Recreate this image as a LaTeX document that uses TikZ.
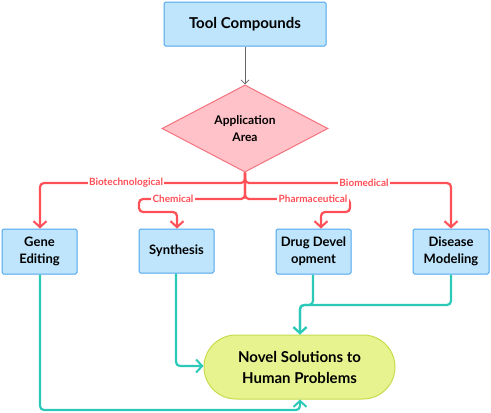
\documentclass[tikz,border=0pt]{standalone}
\usepackage{fontspec}
\setmainfont{Lato}
\usetikzlibrary{shapes.geometric,arrows.meta}
\definecolor{boxfill}{HTML}{BEE5FB}
\definecolor{boxline}{HTML}{4FA6EE}
\definecolor{diafill}{HTML}{FFC2C8}
\definecolor{dialine}{HTML}{F3727E}
\definecolor{redl}{HTML}{FF4F57}
\definecolor{teal}{HTML}{2CC9B9}
\definecolor{endfill}{HTML}{E6F38E}
\definecolor{endline}{HTML}{C7DB4C}
\tikzset{
  stepbox/.style={draw=boxline, fill=boxfill, line width=1pt, rounded corners=1.5pt, align=center, font=\bfseries\fontsize{13}{17}\selectfont, inner sep=0pt},
  redarrow/.style={draw=redl, line width=2.2pt, rounded corners=4pt, -{Straight Barb[length=6pt,width=13pt,line width=2pt]}},
  tealarrow/.style={draw=teal, line width=2.2pt, rounded corners=4pt, -{Straight Barb[length=6pt,width=13pt,line width=2pt]}},
  lab/.style={fill=white, text=redl, font=\bfseries\fontsize{10}{11}\selectfont, inner sep=1.5pt}
}
\begin{document}
\begin{tikzpicture}[x=1pt,y=-1pt]
\useasboundingbox (0,0) rectangle (491,413);
\node[stepbox, minimum width=162pt, minimum height=44pt, font=\bfseries\fontsize{15}{18}\selectfont] (tool) at (245,24) {Tool Compounds};
\node[diamond, draw=dialine, fill=diafill, line width=1pt, minimum width=166pt, minimum height=81pt, inner sep=0pt, align=center, font=\bfseries\fontsize{12}{17}\selectfont] (app) at (245,128.5) {Application\\Area};
\node[stepbox, minimum width=75pt, minimum height=45pt] (gene) at (39.5,251.5) {Gene\\Editing};
\node[stepbox, minimum width=75pt, minimum height=44pt] (syn) at (176.5,251) {Synthesis};
\node[stepbox, minimum width=75pt, minimum height=45pt] (drug) at (313.5,251.5) {Drug Devel\\opment};
\node[stepbox, minimum width=76pt, minimum height=45pt] (dis) at (451,251.5) {Disease\\Modeling};
\node[draw=endline, fill=endfill, line width=1pt, rounded corners=32pt, minimum width=191pt, minimum height=64pt, align=center, font=\bfseries\fontsize{15}{21}\selectfont] (novel) at (299.5,367) {Novel Solutions to\\Human Problems};
\draw[draw=gray!80!black, line width=0.8pt, -{Straight Barb[length=4pt,width=8pt]}] (tool.south) -- (app.north);
% red connectors
\draw[redarrow] (app.south) -- (245,183) -- (40,183) -- (gene.north -| 40,0);
\draw[redarrow] (app.south) -- (245,183) -- (451,183) -- (dis.north);
\draw[redarrow] (app.south) -- (245,199) -- (139,199) -- (139,212) -- (177,212) -- (syn.north -| 177,0);
\draw[redarrow] (app.south) -- (245,199) -- (350,199) -- (350,212) -- (321,212) -- (drug.north -| 321,0);
\node[lab] (l1) at (126,183) {Biotechnological};
\node[lab] (l2) at (364,183) {Biomedical};
\node[lab] (l3) at (173,199) {Chemical};
\node[lab] (l4) at (313,199) {Pharmaceutical};
% teal connectors
\draw[tealarrow] (gene.south -| 40,0) -- (40,410) -- (300,410) -- (novel.south -| 300,0);
\draw[tealarrow] (syn.south -| 176,0) -- (176,366) -- (novel.west |- 0,366);
\draw[tealarrow] (drug.south -| 313,0) -- (313,305) -- (300,305) -- (novel.north -| 300,0);
\draw[tealarrow] (dis.south) -- (451,305) -- (300,305) -- (novel.north -| 300,0);
\end{tikzpicture}
\end{document}
